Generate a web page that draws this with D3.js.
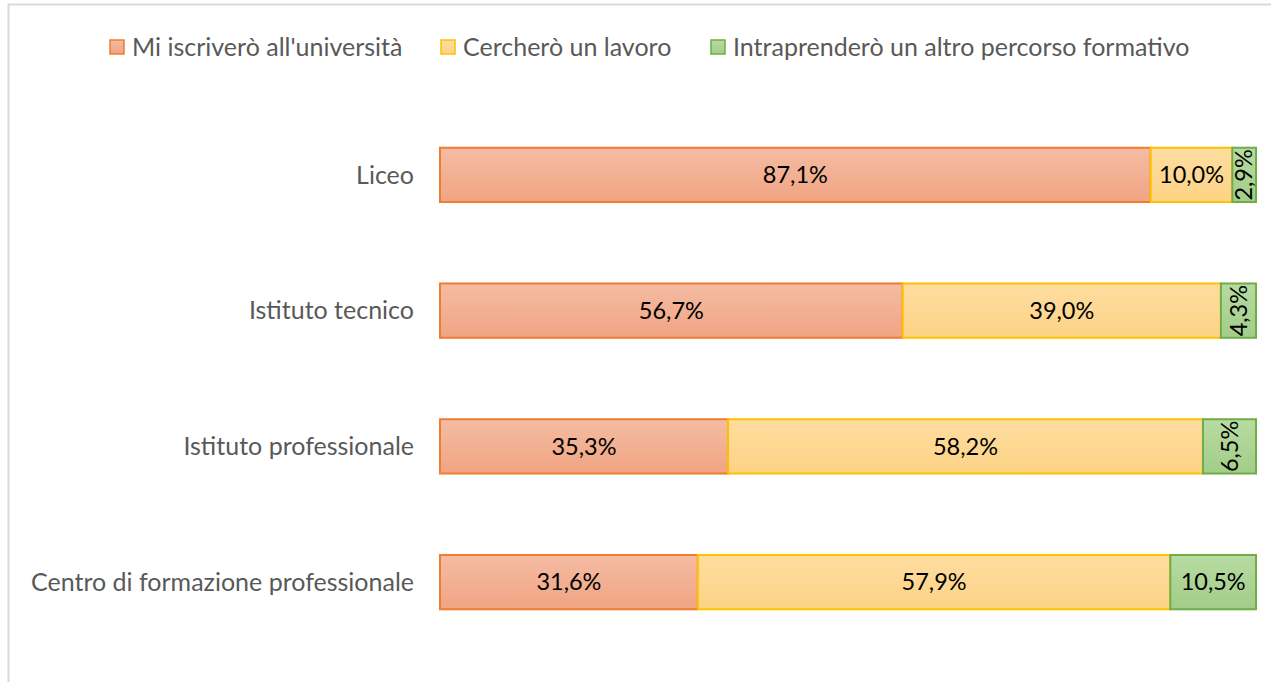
<!DOCTYPE html>
<html>
<head>
<meta charset="utf-8">
<script src="https://cdn.jsdelivr.net/npm/d3@7"></script>
<style>
  body { margin: 0; background: #fff; }
  text { font-family: Lato, "Open Sans", sans-serif; }
</style>
</head>
<body>
<div id="chart"></div>
<script>
// dati
var categories = ["Liceo", "Istituto tecnico", "Istituto professionale", "Centro di formazione professionale"];
var seriesNames = ["Mi iscriverò all'università", "Cercherò un lavoro", "Intraprenderò un altro percorso formativo"];
var universita = [87.1, 56.7, 35.3, 31.6];
var lavoro = [10.0, 39.0, 58.2, 57.9];
var altro = [2.9, 4.3, 6.5, 10.5];

var width = 1271;
var height = 682;
var margin = { top: 130, bottom: 60, right: 15, left: 440 };

var series = [
  { name: seriesNames[0], values: universita, top: "#f5bca3", bottom: "#f0a482", stroke: "#ed7d31" },
  { name: seriesNames[1], values: lavoro, top: "#fedda0", bottom: "#fdd385", stroke: "#ffc000" },
  { name: seriesNames[2], values: altro, top: "#b7dba2", bottom: "#a2cd88", stroke: "#70ad47" }
];

var svg = d3.select("#chart").append("svg").attr("width", width).attr("height", height);

// bordo area grafico
svg.append("path")
  .attr("d", "M8.5,682 L8.5,4.5 L1271,4.5")
  .attr("fill", "none")
  .attr("stroke", "#d9d9d9")
  .attr("stroke-width", 2);

var defs = svg.append("defs");
series.forEach(function(s, i) {
  var g = defs.append("linearGradient").attr("id", "grad" + i)
    .attr("x1", 0).attr("y1", 0).attr("x2", 0).attr("y2", 1);
  g.append("stop").attr("offset", "0%").attr("stop-color", s.top);
  g.append("stop").attr("offset", "100%").attr("stop-color", s.bottom);
});

var xScale = d3.scaleLinear().domain([0, 100]).range([margin.left, width - margin.right]);
var yScale = d3.scaleBand().domain(categories).range([107, 650]).paddingInner(0.6).paddingOuter(0.3);

// etichette categorie
svg.append("g")
  .selectAll("text")
  .data(categories)
  .enter()
  .append("text")
  .attr("x", 414)
  .attr("y", function(d) { return yScale(d) + yScale.bandwidth() / 2; })
  .attr("dy", "0.35em")
  .attr("text-anchor", "end")
  .attr("fill", "#595959")
  .attr("font-size", "25px")
  .text(function(d) { return d; });

// barre
var stackData = categories.map(function(c, ci) {
  var x0 = 0;
  return series.map(function(s, si) {
    var seg = { cat: c, si: si, v: s.values[ci], x0: x0, x1: x0 + s.values[ci] };
    x0 += s.values[ci];
    return seg;
  });
});
var segs = [].concat.apply([], stackData);

svg.append("g")
  .selectAll("rect")
  .data(segs)
  .enter()
  .append("rect")
  .attr("x", function(d) { return xScale(d.x0); })
  .attr("y", function(d) { return yScale(d.cat); })
  .attr("width", function(d) { return xScale(d.x1) - xScale(d.x0); })
  .attr("height", yScale.bandwidth())
  .attr("fill", function(d) { return "url(#grad" + d.si + ")"; })
  .attr("stroke", function(d) { return series[d.si].stroke; })
  .attr("stroke-width", 2);

var fmt = function(v) { return v.toFixed(1).replace(".", ",") + "%"; };

svg.append("g")
  .selectAll("text")
  .data(segs)
  .enter()
  .append("text")
  .attr("transform", function(d) {
    var cx = (xScale(d.x0) + xScale(d.x1)) / 2;
    var cy = yScale(d.cat) + yScale.bandwidth() / 2;
    var w = xScale(d.x1) - xScale(d.x0);
    return "translate(" + cx + "," + cy + ")" + (w < 65 ? " rotate(-90)" : "");
  })
  .attr("dy", "0.35em")
  .attr("text-anchor", "middle")
  .attr("fill", "#000")
  .attr("font-size", "23.5px")
  .text(function(d) { return fmt(d.v); });

// legenda
var legendX = [110, 441, 711];
var legend = svg.append("g")
  .selectAll("g")
  .data(series)
  .enter()
  .append("g")
  .attr("transform", function(d, i) { return "translate(" + legendX[i] + ",47)"; });

legend.append("rect")
  .attr("x", 0).attr("y", -7)
  .attr("width", 14).attr("height", 14)
  .attr("fill", function(d, i) { return "url(#grad" + i + ")"; })
  .attr("stroke", function(d) { return d.stroke; })
  .attr("stroke-width", 1.5);

legend.append("text")
  .attr("x", 22)
  .attr("y", 0)
  .attr("dy", "0.35em")
  .attr("fill", "#595959")
  .attr("font-size", "25px")
  .text(function(d) { return d.name; });
</script>
</body>
</html>
